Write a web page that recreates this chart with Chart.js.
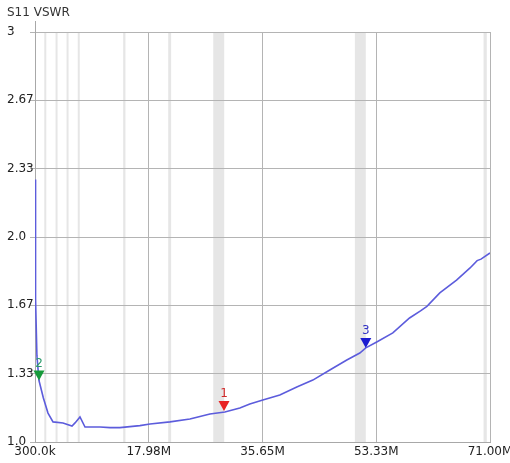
<!DOCTYPE html>
<html>
<head>
<meta charset="utf-8">
<script src="https://cdn.jsdelivr.net/npm/chart.js@4/dist/chart.umd.min.js"></script>
<style>
  html, body { margin: 0; padding: 0; background: #fff; overflow: hidden; }
  #wrap { width: 510px; height: 463px; }
</style>
</head>
<body>
<div id="wrap"><canvas id="c" width="510" height="463"></canvas></div>
<script>
// Sweep: frequency (MHz) and measured S11 VSWR
const freqMHz = [0.30, 0.32, 0.45, 0.60, 0.92, 1.60, 2.32, 3.10, 4.65, 6.05, 6.52, 7.29, 8.07,
  10.4, 11.95, 13.5, 16.6, 18.17, 21.27, 24.37, 27.48, 29.8, 32.13, 33.68, 35.7, 38.34,
  40.98, 43.47, 46.11, 48.75, 50.77, 51.7, 53.4, 55.9, 58.5, 60.2, 61.2, 63.2, 65.8, 67.9, 69.0, 69.6, 71.0];
const vswr = [2.28, 2.15, 1.70, 1.42, 1.30, 1.215, 1.141, 1.098, 1.093, 1.078, 1.093, 1.122, 1.073,
  1.073, 1.070, 1.070, 1.080, 1.088, 1.098, 1.112, 1.137, 1.146, 1.166, 1.185, 1.205, 1.229,
  1.268, 1.302, 1.351, 1.400, 1.434, 1.459, 1.488, 1.532, 1.605, 1.640, 1.662, 1.727, 1.790, 1.849, 1.885, 1.892, 1.922];

// Markers
const markerIds = ['1', '2', '3'];
const markerFreq = [29.67, 0.92, 51.7];
const markerVswr = [1.151, 1.30, 1.459];
const markerFill = ['#e82424', '#169a3a', '#1c1cd0'];
const markerText = ['#d02a2a', '#2a9a6a', '#3434c4'];

// Amateur band highlights (MHz)
const bandStart = [1.8, 3.5, 5.35, 7.0, 14.0, 21.0, 28.0, 50.0, 70.0];
const bandEnd   = [2.0, 3.8, 5.37, 7.2, 14.35, 21.45, 29.7, 51.7, 70.5];

// Axis ticks
const xTickValues = [0.3, 17.975, 35.65, 53.325, 71.0];
const xTickLabels = ['300.0k', '17.98M', '35.65M', '53.33M', '71.00M'];
const yTickValues = [1, 4 / 3, 5 / 3, 2, 7 / 3, 8 / 3, 3];
const yTickLabels = ['1.0', '1.33', '1.67', '2.0', '2.33', '2.67', '3'];

const FONT = 'DejaVu Sans';

const bandPlugin = {
  id: 'bands',
  beforeDraw(chart) {
    const { ctx, chartArea, scales: { x } } = chart;
    ctx.save();
    ctx.fillStyle = '#e6e6e6';
    for (let i = 0; i < bandStart.length; i++) {
      let x1 = x.getPixelForValue(bandStart[i]);
      let x2 = x.getPixelForValue(bandEnd[i]);
      if (x2 - x1 < 2) { const m = (x1 + x2) / 2; x1 = m - 1; x2 = m + 1; }
      ctx.fillRect(x1, chartArea.top, x2 - x1, chartArea.bottom - chartArea.top);
    }
    // left axis line runs a little above the plot
    ctx.strokeStyle = '#a8a8a8';
    ctx.lineWidth = 1;
    ctx.beginPath();
    ctx.moveTo(Math.round(chartArea.left) + 0.5, chartArea.top - 11);
    ctx.lineTo(Math.round(chartArea.left) + 0.5, chartArea.top);
    ctx.stroke();
    ctx.restore();
  }
};

const markerPlugin = {
  id: 'markers',
  afterDatasetsDraw(chart) {
    const { ctx, scales: { x, y } } = chart;
    ctx.save();
    for (let i = 0; i < markerIds.length; i++) {
      const px = x.getPixelForValue(markerFreq[i]);
      const py = y.getPixelForValue(markerVswr[i]);
      ctx.beginPath();
      ctx.moveTo(px, py);
      ctx.lineTo(px - 5.5, py - 10);
      ctx.lineTo(px + 5.5, py - 10);
      ctx.closePath();
      ctx.fillStyle = markerFill[i];
      ctx.fill();
      ctx.font = '12px "' + FONT + '"';
      ctx.fillStyle = markerText[i];
      ctx.textAlign = 'center';
      ctx.textBaseline = 'middle';
      ctx.fillText(markerIds[i], px, py - 17);
    }
    ctx.restore();
  }
};

new Chart(document.getElementById('c'), {
  type: 'line',
  data: {
    datasets: [{
      data: freqMHz.map((f, i) => ({ x: f, y: vswr[i] })),
      borderColor: '#5c5cdc',
      borderWidth: 1.6,
      pointRadius: 0,
      tension: 0,
      fill: false
    }]
  },
  options: {
    responsive: false,
    animation: false,
    layout: { padding: { left: 7, right: 0, top: 0, bottom: 0 } },
    plugins: {
      legend: { display: false },
      tooltip: { enabled: false },
      title: {
        display: true,
        text: 'S11 VSWR',
        align: 'start',
        color: '#333',
        font: { family: FONT, size: 12, weight: 'normal' },
        padding: { top: 6, bottom: 11.6 }
      }
    },
    scales: {
      x: {
        type: 'linear',
        min: 0.3,
        max: 71.0,
        afterBuildTicks(s) { s.ticks = xTickValues.map(v => ({ value: v })); },
        afterFit(s) { s.height = 21; s.paddingRight = 20; s.paddingLeft = 0; },
        ticks: {
          autoSkip: false,
          maxRotation: 0,
          padding: 3,
          color: '#222',
          font: { family: FONT, size: 12 },
          callback(v) { const i = xTickValues.indexOf(v); return i >= 0 ? xTickLabels[i] : ''; }
        },
        grid: { color: '#b4b4b4', drawTicks: false },
        border: { color: '#a8a8a8' }
      },
      y: {
        type: 'linear',
        min: 1,
        max: 3,
        afterBuildTicks(s) { s.ticks = yTickValues.map(v => ({ value: v })); },
        afterFit(s) { s.width = 28; },
        ticks: {
          autoSkip: false,
          crossAlign: 'far',
          color: '#222',
          font: { family: FONT, size: 12 },
          callback(v) {
            const i = yTickValues.findIndex(t => Math.abs(t - v) < 1e-6);
            return i >= 0 ? yTickLabels[i] : '';
          }
        },
        grid: { color: '#b4b4b4', tickLength: 5 },
        border: { color: '#a8a8a8' }
      }
    }
  },
  plugins: [bandPlugin, markerPlugin]
});
</script>
</body>
</html>
